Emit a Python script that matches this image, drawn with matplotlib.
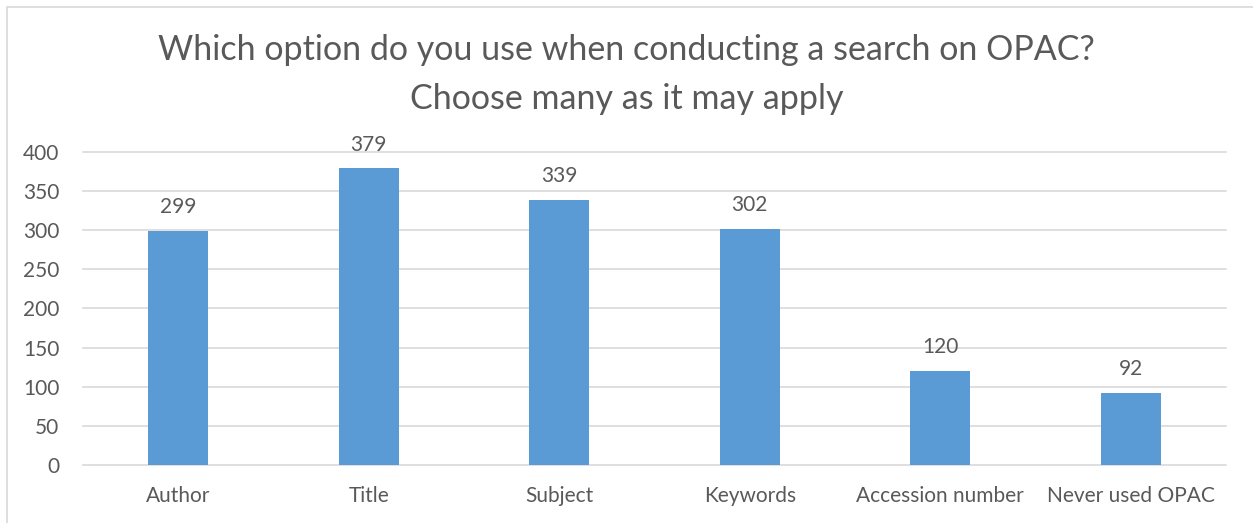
import matplotlib.pyplot as plt
from matplotlib.patches import Rectangle

# Data
categories = ["Author", "Title", "Subject", "Keywords", "Accession number", "Never used OPAC"]
counts = [299, 379, 339, 302, 120, 92]
y_ticks = [0, 50, 100, 150, 200, 250, 300, 350, 400]

text_color = "#595959"
bar_color = "#5B9BD5"
grid_color = "#D9D9D9"

plt.rcParams['font.family'] = ['Lato', 'DejaVu Sans']

fig = plt.figure(figsize=(12.53, 5.23), dpi=100)
ax = fig.add_axes([0.0662, 0.1109, 0.9123, 0.5985])

x = range(len(categories))
bars = ax.bar(x, counts, width=0.315, color=bar_color, zorder=3)

for i, v in enumerate(counts):
    ax.annotate(str(v), (i, v), xytext=(0, 10), textcoords="offset points",
                ha="center", va="bottom", fontsize=15, color=text_color)

ax.set_xlim(-0.5, len(categories) - 0.5)
ax.set_ylim(0, 400)
ax.set_yticks(y_ticks)
ax.set_xticks(list(x))
ax.set_xticklabels(categories)
ax.tick_params(axis="both", length=0, labelsize=15, labelcolor=text_color)
ax.tick_params(axis="x", pad=15)
ax.tick_params(axis="y", pad=17)
ax.grid(axis="y", color=grid_color, linewidth=1.2, zorder=0)
for line in ax.get_ygridlines():
    line.set_clip_on(False)
for s in ax.spines.values():
    s.set_visible(False)

fig.text(0.5, 0.905, "Which option do you use when conducting a search on OPAC?",
         ha="center", va="center", fontsize=24.5, color=text_color)
fig.text(0.5, 0.810, "Choose many as it may apply",
         ha="center", va="center", fontsize=24.5, color=text_color)

# chart border
fig.patches.append(Rectangle((7 / 1253, -0.1), 1.2, 1 - 7 / 523 + 0.1,
                             transform=fig.transFigure, fill=False,
                             edgecolor="#D9D9D9", linewidth=1.2))

fig.savefig("out.png", dpi=100)
